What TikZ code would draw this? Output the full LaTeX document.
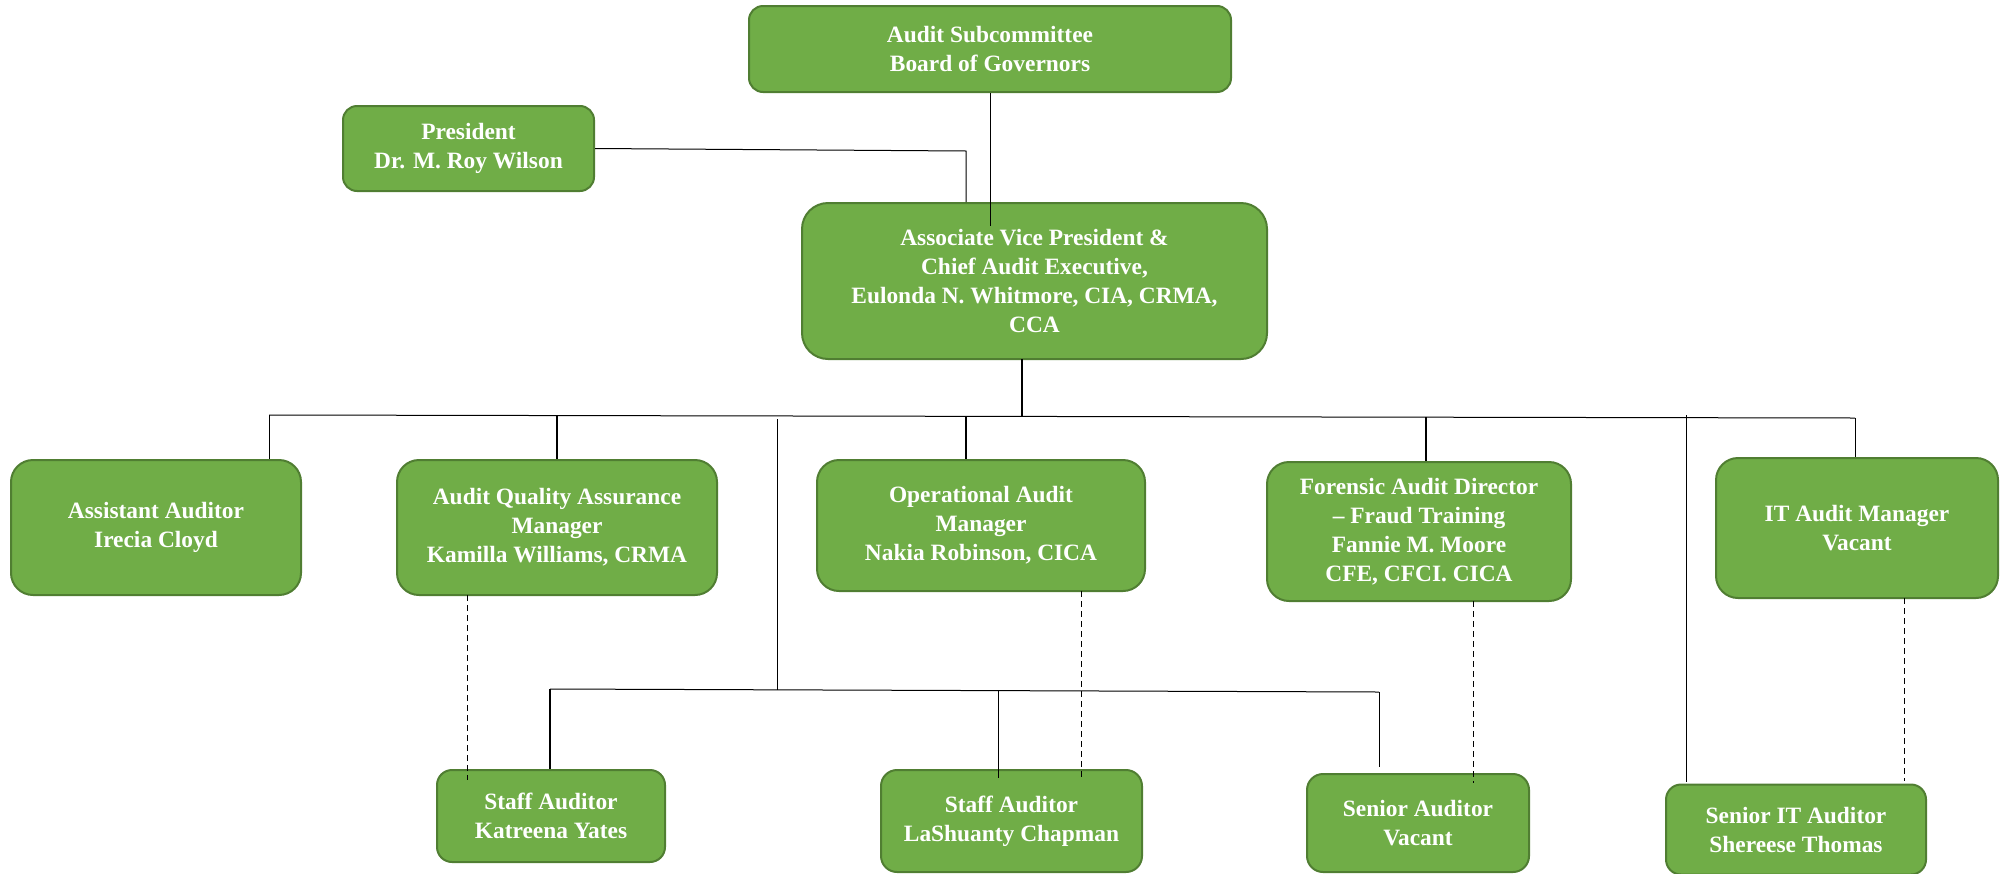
\documentclass[tikz,border=0pt]{standalone}
\usepackage{fontspec}
\setmainfont{Liberation Serif}
\usetikzlibrary{calc}
\definecolor{boxfill}{HTML}{70AD47}
\definecolor{boxline}{HTML}{507E32}
\tikzset{
  orgbox/.style={draw=boxline, fill=boxfill, line width=1pt, text=white,
    font=\bfseries\fontsize{11.7}{14.5}\selectfont, align=center, inner sep=0pt},
  thinline/.style={draw=black, line width=0.5pt},
  thickline/.style={draw=black, line width=0.9pt},
  dotline/.style={draw=black, line width=0.5pt, dash pattern=on 3pt off 2pt},
}
\begin{document}
\begin{tikzpicture}[x=0.5pt, y=-0.5pt]
\useasboundingbox (0,0) rectangle (2000,873);
% boxes
\node[orgbox, minimum width=241pt, minimum height=43pt, rounded corners=7pt] (board) at (990,49) {Audit Subcommittee\\Board of Governors};
\node[orgbox, minimum width=125.5pt, minimum height=42.5pt, rounded corners=7pt] (pres) at (468.5,148.5) {President\\Dr. M. Roy Wilson};
\node[orgbox, minimum width=232.5pt, minimum height=78pt, rounded corners=13pt] (avp) at (1034.5,281) {Associate Vice President \&\\Chief Audit Executive,\\Eulonda N. Whitmore, CIA, CRMA,\\CCA};
\node[orgbox, minimum width=145pt, minimum height=67.5pt, rounded corners=11pt] (asst) at (156,527.5) {Assistant Auditor\\Irecia Cloyd};
\node[orgbox, minimum width=160pt, minimum height=67.5pt, rounded corners=11pt] (aqa) at (557,527.5) {Audit Quality Assurance\\Manager\\Kamilla Williams, CRMA};
\node[orgbox, minimum width=164pt, minimum height=65.5pt, rounded corners=11pt] (ops) at (981,525.5) {Operational Audit\\Manager\\Nakia Robinson, CICA};
\node[orgbox, minimum width=152pt, minimum height=69.5pt, rounded corners=11pt] (fore) at (1419,531.5) {Forensic Audit Director\\– Fraud Training\\Fannie M. Moore\\CFE, CFCI. CICA};
\node[orgbox, minimum width=141pt, minimum height=70pt, rounded corners=11pt] (itm) at (1857,528) {IT Audit Manager\\Vacant};
\node[orgbox, minimum width=114pt, minimum height=46pt, rounded corners=7.5pt] (staffa) at (551,816) {Staff Auditor\\Katreena Yates};
\node[orgbox, minimum width=130.5pt, minimum height=51pt, rounded corners=8pt] (staffb) at (1011.5,821) {Staff Auditor\\LaShuanty Chapman};
\node[orgbox, minimum width=111pt, minimum height=49pt, rounded corners=8pt] (senior) at (1418,823) {Senior Auditor\\Vacant};
\node[orgbox, minimum width=130pt, minimum height=45pt, rounded corners=7.5pt] (senit) at (1796,829.5) {Senior IT Auditor\\Shereese Thomas};
% junction coordinates
\coordinate (bd) at (990,226);
\coordinate (pj) at (966,151);
\coordinate (avpj) at (1022,359);
\coordinate (busC) at (1022,416);
\coordinate (busL) at (269,415);
\coordinate (busR) at (1855,418);
\coordinate (busA) at (557,415);
\coordinate (busS) at (777,419);
\coordinate (busO) at (966,416);
\coordinate (busF) at (1426,417);
\coordinate (busT) at (1686,415);
\coordinate (sT) at (1686,782);
\coordinate (subL) at (550,689);
\coordinate (subM) at (777,690);
\coordinate (subB) at (998,691);
\coordinate (subR) at (1379,692);
\coordinate (sB) at (998,778);
\coordinate (sR) at (1379,767);
% solid connectors
\draw[thinline] (board.south) -- (bd);
\draw[thinline] (pres.east) -- (pj) -- (pj |- avp.north);
\draw[thickline] (avpj) -- (busC);
\draw[thinline] (busL) -- (busR);
\draw[thinline] (busL) -- (busL |- asst.north);
\draw[thickline] (busA) -- (aqa.north);
\draw[thinline] (busS) -- (subM);
\draw[thickline] (busO) -- (busO |- ops.north);
\draw[thickline] (busF) -- (busF |- fore.north);
\draw[thinline] (busT) -- (sT);
\draw[thinline] (busR) -- (busR |- itm.north);
\draw[thinline] (subL) -- (subR);
\draw[thickline] (subL) -- (subL |- staffa.north);
\draw[thinline] (subB) -- (sB);
\draw[thinline] (subR) -- (sR);
% dashed connectors
\draw[dotline] (467,595) -- (467,780);
\draw[dotline] (1081,591) -- (1081,777);
\draw[dotline] (1473,601) -- (1473,783);
\draw[dotline] (1904,598) -- (1904,781);
\end{tikzpicture}
\end{document}
